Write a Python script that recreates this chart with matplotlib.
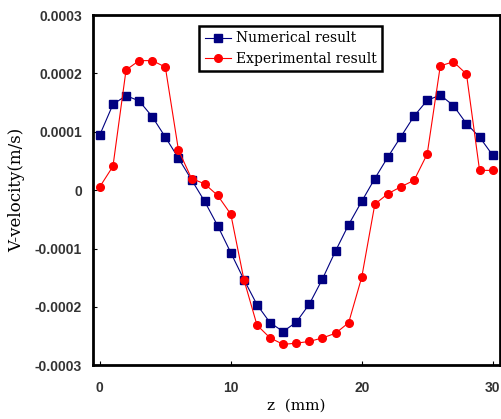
import matplotlib
matplotlib.use("Agg")
import matplotlib.pyplot as plt

# z positions (mm)
z = list(range(31))

# V-velocity (m/s)
numerical = [0.95e-4, 1.47e-4, 1.62e-4, 1.53e-4, 1.26e-4, 0.91e-4, 0.55e-4, 0.18e-4,
             -0.19e-4, -0.61e-4, -1.07e-4, -1.53e-4, -1.96e-4, -2.27e-4, -2.42e-4,
             -2.26e-4, -1.95e-4, -1.52e-4, -1.04e-4, -0.59e-4, -0.19e-4, 0.2e-4,
             0.57e-4, 0.92e-4, 1.27e-4, 1.54e-4, 1.63e-4, 1.45e-4, 1.14e-4, 0.91e-4,
             0.6e-4]
experimental = [0.06e-4, 0.41e-4, 2.06e-4, 2.22e-4, 2.22e-4, 2.11e-4, 0.69e-4, 0.2e-4,
                0.11e-4, -0.09e-4, -0.41e-4, -1.53e-4, -2.31e-4, -2.53e-4, -2.64e-4,
                -2.62e-4, -2.59e-4, -2.53e-4, -2.45e-4, -2.27e-4, -1.49e-4, -0.24e-4,
                -0.06e-4, 0.06e-4, 0.17e-4, 0.62e-4, 2.13e-4, 2.2e-4, 1.99e-4, 0.34e-4,
                0.34e-4]

x_ticks = [0, 10, 20, 30]
y_ticks = [-0.0003, -0.0002, -0.0001, 0, 0.0001, 0.0002, 0.0003]
y_labels = ["-0.0003", "-0.0002", "-0.0001", "0", "0.0001", "0.0002", "0.0003"]

fig = plt.figure(figsize=(5.01, 4.19), dpi=100)
ax = fig.add_axes([0.186, 0.128, 0.812, 0.836])

ax.plot(z, numerical, color="#000080", linewidth=0.8, marker="s", markersize=6,
        markerfacecolor="#000080", markeredgecolor="#000080", label="Numerical result")
ax.plot(z, experimental, color="#ff0000", linewidth=0.8, marker="o", markersize=5.5,
        markerfacecolor="#ff0000", markeredgecolor="#ff0000", label="Experimental result")

ax.set_xlim(-0.51, 30.56)
ax.set_ylim(-0.0003, 0.0003)
ax.set_xticks(x_ticks)
ax.set_xticklabels([str(t) for t in x_ticks])
ax.set_yticks(y_ticks)
ax.set_yticklabels(y_labels)

for spine in ax.spines.values():
    spine.set_linewidth(2)
ax.tick_params(direction="in", length=3, width=0.8, labelsize=10, labelcolor="#333333")
ax.tick_params(axis="x", pad=11)
ax.tick_params(axis="y", pad=8)
for lab in ax.get_xticklabels() + ax.get_yticklabels():
    lab.set_family("Liberation Sans")
    lab.set_weight("bold")

ax.set_xlabel("z  (mm)", family="DejaVu Serif", fontsize=11, labelpad=3)
ax.set_ylabel("V-velocity(m/s)", family="DejaVu Serif", fontsize=12)
ax.yaxis.set_label_coords(-0.168, 0.5)

leg = ax.legend(loc="upper left", bbox_to_anchor=(0.26, 0.969), borderaxespad=0,
                prop={"family": "DejaVu Serif", "size": 10},
                fancybox=False, framealpha=1, edgecolor="black", handlelength=1.9,
                handletextpad=0.35, borderpad=0.4, labelspacing=0.45)
leg.get_frame().set_linewidth(1.8)

fig.savefig("out.png", dpi=100)
